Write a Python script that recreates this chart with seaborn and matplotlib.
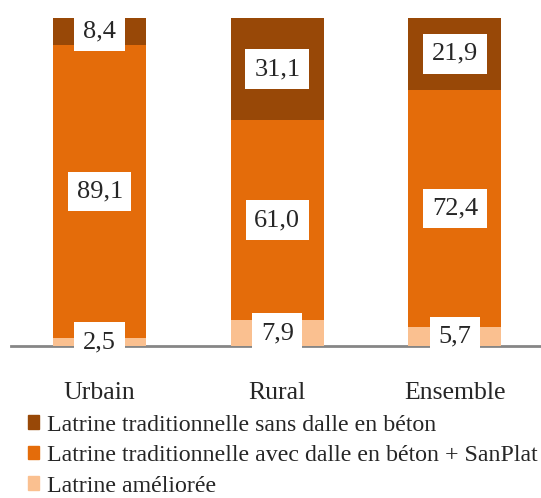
import matplotlib
matplotlib.use("Agg")
import matplotlib.pyplot as plt
import pandas as pd
import seaborn as sns

# data (%)
categories = ["Urbain", "Rural", "Ensemble"]
amelioree = [2.5, 7.9, 5.7]
avec_dalle = [89.1, 61.0, 72.4]
sans_dalle = [8.4, 31.1, 21.9]
series_names = ["Latrine traditionnelle sans dalle en béton",
                "Latrine traditionnelle avec dalle en béton + SanPlat",
                "Latrine améliorée"]
colors = ["#984807", "#E46C0A", "#FAC090"]

sns.set_style("white")
plt.rcParams["font.family"] = ["Liberation Serif", "DejaVu Serif"]

df = pd.DataFrame({"cat": categories, "low": amelioree,
                   "mid": avec_dalle, "top": sans_dalle})
df["cum_low"] = df["low"]
df["cum_mid"] = df["low"] + df["mid"]
df["cum_top"] = df["cum_mid"] + df["top"]

fig = plt.figure(figsize=(5.41, 4.98), dpi=100)
ax = fig.add_axes([0.02, 0.305, 0.985, 0.659])

# stacked bars: draw cumulative totals, biggest first
for col, c in zip(["cum_top", "cum_mid", "cum_low"], colors):
    sns.barplot(data=df, x="cat", y=col, color=c, width=0.523,
                saturation=1, linewidth=0, edgecolor="none", ax=ax)

# value labels in white boxes
for i in range(len(categories)):
    for start, val in [(0, amelioree[i]),
                       (amelioree[i], avec_dalle[i]),
                       (amelioree[i] + avec_dalle[i], sans_dalle[i])]:
        ax.text(i, start + val / 2, f"{val:.1f}".replace(".", ","),
                ha="center", va="center", fontsize=19,
                bbox=dict(boxstyle="square,pad=0.33", fc="white", ec="none"))

ax.set_ylim(0, 100)
ax.set_xlim(-0.5, 2.5)
ax.set_xlabel("")
ax.set_ylabel("")
ax.set_yticks([])
for s in ["top", "right", "left"]:
    ax.spines[s].set_visible(False)
ax.spines["bottom"].set_color("#868686")
ax.spines["bottom"].set_linewidth(2)
ax.spines["bottom"].set_zorder(0.5)
ax.tick_params(axis="x", length=0, labelsize=18.5, pad=26)

handles = [plt.Rectangle((0, 0), 1, 1, color=c) for c in colors]
fig.legend(handles, series_names, loc="lower left",
           bbox_to_anchor=(0.02, -0.031), frameon=False, fontsize=17.2,
           handlelength=0.5, handleheight=0.5, handletextpad=0.3,
           labelspacing=0.40, borderpad=0.2)

fig.savefig("out.png", dpi=100)
